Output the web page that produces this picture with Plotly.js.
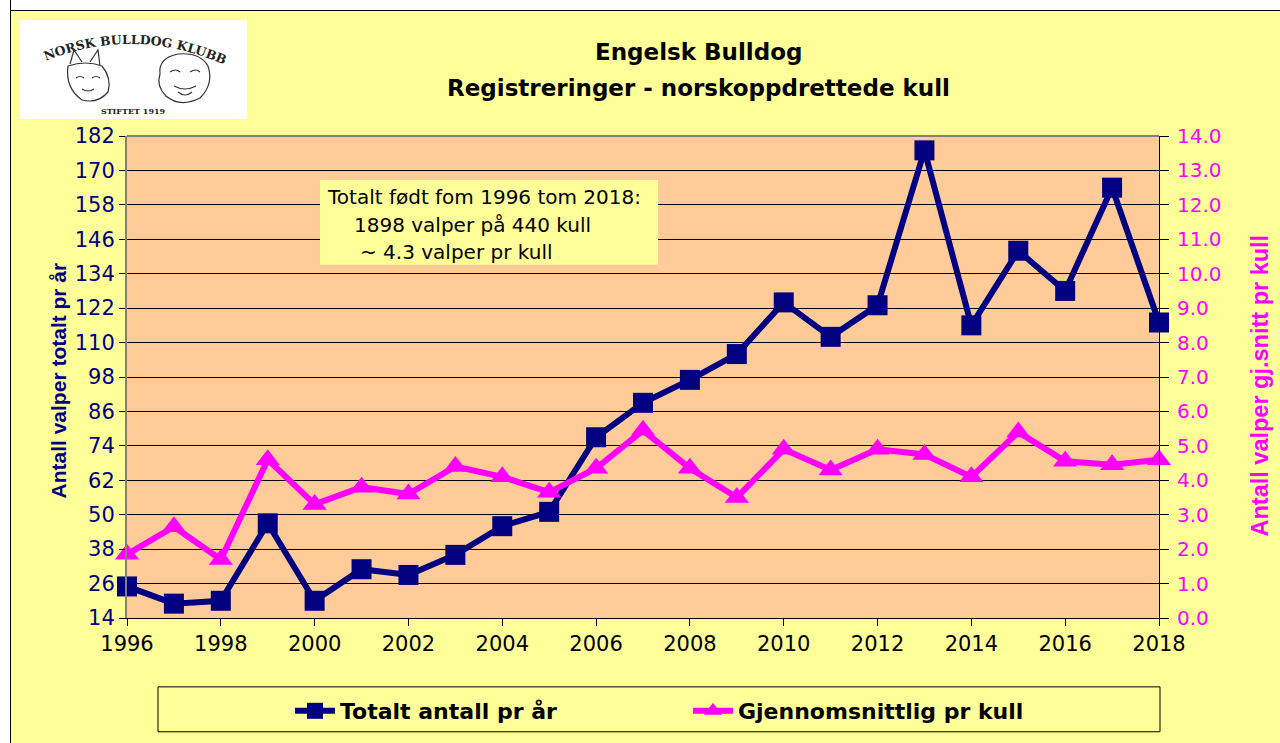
<!DOCTYPE html>
<html>
<head>
<meta charset="utf-8">
<script src="https://cdn.plot.ly/plotly-3.0.1.min.js"></script>
<style>
  html, body { margin: 0; padding: 0; background: #ffffff; }
  #wrap { position: relative; width: 1280px; height: 743px; overflow: hidden; }
  #chart { position: absolute; left: 0; top: 0; width: 1280px; height: 743px; }
  .strip { position: absolute; background: #ffffff; }
  #logo { position: absolute; left: 20px; top: 20px; width: 227px; height: 99px; background: #ffffff; }
</style>
</head>
<body>
<div id="wrap">
  <div id="chart"></div>
  <div class="strip" style="left:0;top:0;width:1280px;height:10px;border-bottom:1px solid #000;"></div>
  <div class="strip" style="left:0;top:0;width:10px;height:743px;border-right:1px solid #000;"></div>
  <div id="logo">
    <svg width="227" height="99" viewBox="0 0 227 99" xmlns="http://www.w3.org/2000/svg">
      <defs>
        <path id="arc" d="M 14 46 Q 113 0 216 50" fill="none"/>
      </defs>
      <text font-family="DejaVu Serif, serif" font-weight="bold" font-size="12.5" fill="#222">
        <textPath href="#arc" startOffset="50%" text-anchor="middle">NORSK BULLDOG KLUBB</textPath>
      </text>
      <g fill="none" stroke="#333" stroke-width="1.2">
        <path d="M 50 44 L 54 30 L 62 42 M 70 42 L 78 30 L 80 46 M 48 46 Q 45 68 62 80 Q 78 84 88 72 Q 92 58 82 46 Q 66 40 48 46 Z"/>
        <path d="M 56 58 Q 60 55 64 58 M 72 58 Q 76 55 80 58 M 62 69 Q 68 73 74 69"/>
        <path d="M 140 54 Q 138 38 158 34 Q 180 32 188 46 Q 194 64 180 78 Q 160 88 146 76 Q 136 66 140 54 Z"/>
        <path d="M 150 52 Q 156 48 160 52 M 170 52 Q 176 48 180 52 M 154 66 Q 165 72 176 66 M 158 72 Q 165 78 172 72"/>
      </g>
      <text x="113" y="94" font-family="DejaVu Serif, serif" font-size="8" font-weight="bold" fill="#222" text-anchor="middle">STIFTET 1919</text>
    </svg>
  </div>
</div>
<script>
// ---- data ----
const years = [1996,1997,1998,1999,2000,2001,2002,2003,2004,2005,2006,2007,2008,2009,2010,2011,2012,2013,2014,2015,2016,2017,2018];
const totaltPrAar = [25,19,20,47,20,31,29,36,46,51,77,89,97,106,124,112,123,177,116,142,128,164,117];
const snittPrKull = [1.85,2.65,1.7,4.6,3.3,3.8,3.6,4.4,4.1,3.65,4.35,5.45,4.35,3.5,4.9,4.3,4.9,4.75,4.1,5.4,4.55,4.45,4.6];
const leftTicks = [14,26,38,50,62,74,86,98,110,122,134,146,158,170,182];
const rightTicks = [0,1,2,3,4,5,6,7,8,9,10,11,12,13,14];
const rightTickText = rightTicks.map(v => v.toFixed(1));
const xTicks = [1996,1998,2000,2002,2004,2006,2008,2010,2012,2014,2016,2018];
const seriesNames = ['Totalt antall pr år', 'Gjennomsnittlig pr kull'];
const axisTitles = ['Antall valper totalt pr år', 'Antall valper gj.snitt pr kull'];
const titleLines = ['Engelsk Bulldog', 'Registreringer - norskoppdrettede kull'];
const infoLines = ['Totalt født fom 1996 tom 2018:', '1898 valper på 440 kull', '~ 4.3 valper pr kull'];

const FONT = 'Liberation Sans, Arial, sans-serif';
const WIDE = 'DejaVu Sans, Verdana, sans-serif';
const NAVY = '#000080';
const PINK = '#FF00FF';

const traces = [
  {
    x: years, y: totaltPrAar, name: '<b>' + seriesNames[0] + '</b>',
    type: 'scatter', mode: 'lines+markers', yaxis: 'y', cliponaxis: false,
    line: {color: NAVY, width: 6},
    marker: {symbol: 'square', size: 20, color: NAVY}
  },
  {
    x: years, y: snittPrKull, name: '<b>' + seriesNames[1] + '</b>',
    type: 'scatter', mode: 'lines+markers', yaxis: 'y2', cliponaxis: false,
    line: {color: PINK, width: 6},
    marker: {symbol: 'triangle-up', size: 21, color: PINK}
  }
];

const L = 127, R = 1159, T = 136, B = 619;
const W = R - L, H = B - T;
const px = x => (x - L) / W;
const py = y => (B - y) / H;

const layout = {
  width: 1280, height: 743,
  margin: {l: L, r: 1280 - R, t: T, b: 743 - B, pad: 0},
  paper_bgcolor: '#FFFF99',
  plot_bgcolor: '#FFCC99',
  font: {family: FONT, color: '#000'},
  showlegend: true,
  legend: {
    orientation: 'h', x: px(290), xanchor: 'left', y: py(711), yanchor: 'middle',
    bgcolor: 'rgba(0,0,0,0)', borderwidth: 0,
    font: {family: WIDE, size: 22, color: '#000'},
    entrywidth: 343, entrywidthmode: 'pixels', itemwidth: 40
  },
  xaxis: {
    range: [1996, 2018], tickvals: xTicks, ticktext: xTicks.map(String),
    showgrid: false, zeroline: false,
    showline: true, linecolor: '#000', linewidth: 1,
    ticks: 'outside', ticklen: 7, tickcolor: '#000',
    tickfont: {family: WIDE, size: 21, color: '#000'}
  },
  yaxis: {
    range: [14, 182], tickvals: leftTicks, ticktext: leftTicks.map(String),
    showgrid: true, gridcolor: '#000', gridwidth: 1, zeroline: false,
    showline: true, linecolor: '#808080', linewidth: 2,
    ticks: 'outside', ticklen: 6, tickcolor: '#000',
    tickfont: {family: WIDE, size: 21, color: NAVY}
  },
  yaxis2: {
    range: [0, 14], tickvals: rightTicks, ticktext: rightTickText,
    overlaying: 'y', side: 'right', showgrid: false, zeroline: false,
    showline: true, linecolor: '#000', linewidth: 1,
    ticks: 'outside', ticklen: 9, tickcolor: '#000', ticklabelstandoff: 4,
    tickfont: {family: WIDE, size: 20, color: PINK}
  },
  shapes: [
    {type: 'line', xref: 'paper', yref: 'paper', x0: 0, x1: 1, y0: 1, y1: 1, line: {color: '#808080', width: 2}},
    {type: 'rect', xref: 'paper', yref: 'paper', x0: px(320), x1: px(658), y0: py(265), y1: py(180),
     fillcolor: '#FFFF99', line: {width: 0}, layer: 'above'},
    {type: 'rect', xref: 'paper', yref: 'paper', x0: px(158), x1: px(1160), y0: py(733), y1: py(688),
     fillcolor: 'rgba(0,0,0,0)', line: {color: '#000', width: 1}}
  ],
  annotations: [
    {xref: 'paper', yref: 'paper', x: px(698), y: py(52), xanchor: 'center', yanchor: 'middle', showarrow: false,
     text: '<b>' + titleLines[0] + '</b>', font: {family: WIDE, size: 23, color: '#000'}},
    {xref: 'paper', yref: 'paper', x: px(698), y: py(88), xanchor: 'center', yanchor: 'middle', showarrow: false,
     text: '<b>' + titleLines[1] + '</b>', font: {family: WIDE, size: 23, color: '#000'}},
    {xref: 'paper', yref: 'paper', x: px(325), y: py(197), xanchor: 'left', yanchor: 'middle', showarrow: false,
     text: infoLines[0], font: {family: WIDE, size: 20, color: '#000'}},
    {xref: 'paper', yref: 'paper', x: px(352), y: py(225), xanchor: 'left', yanchor: 'middle', showarrow: false,
     text: infoLines[1], font: {family: WIDE, size: 20, color: '#000'}},
    {xref: 'paper', yref: 'paper', x: px(358), y: py(252), xanchor: 'left', yanchor: 'middle', showarrow: false,
     text: infoLines[2], font: {family: WIDE, size: 20, color: '#000'}},
    {xref: 'paper', yref: 'paper', x: px(58), y: py(381), xanchor: 'center', yanchor: 'middle', showarrow: false,
     textangle: -90, text: '<b>' + axisTitles[0] + '</b>', font: {family: FONT, size: 21, color: NAVY}},
    {xref: 'paper', yref: 'paper', x: px(1260), y: py(386), xanchor: 'center', yanchor: 'middle', showarrow: false,
     textangle: -90, text: '<b>' + axisTitles[1] + '</b>', font: {family: FONT, size: 23.5, color: PINK}}
  ]
};

Plotly.newPlot('chart', traces, layout, {displayModeBar: false, staticPlot: true});
</script>
</body>
</html>
